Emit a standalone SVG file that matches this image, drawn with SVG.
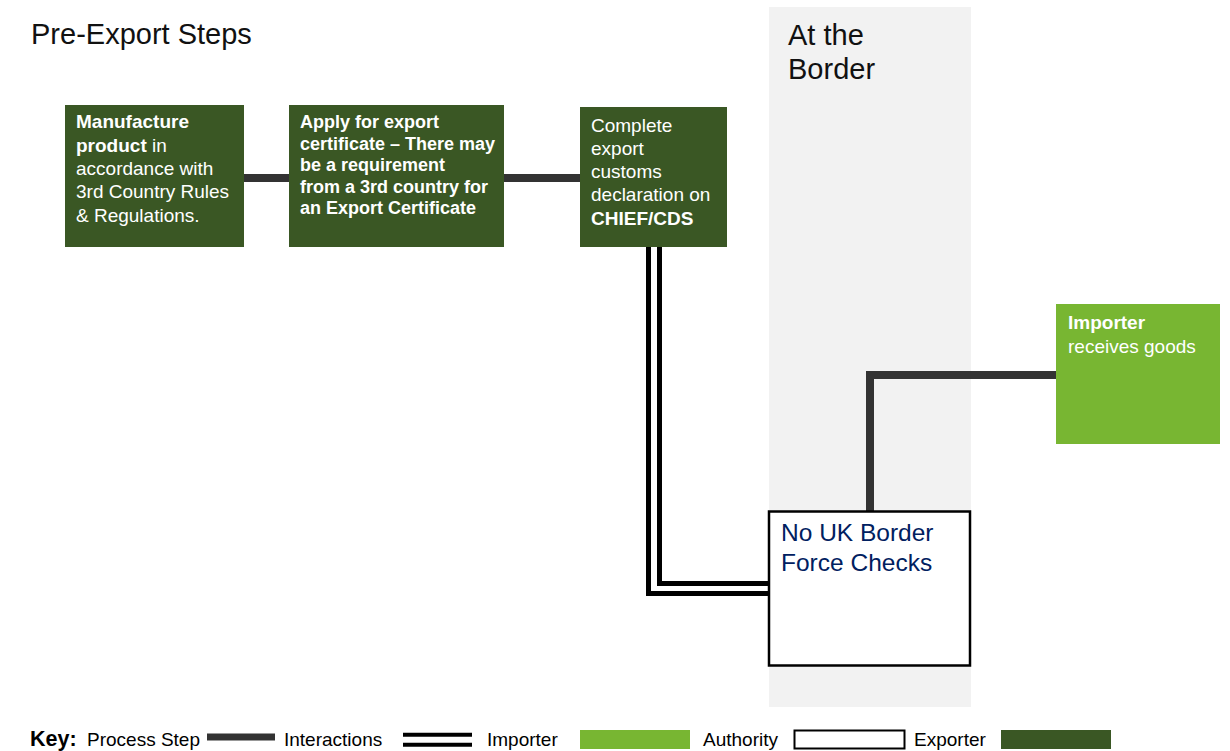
<svg xmlns="http://www.w3.org/2000/svg" width="1230" height="751" viewBox="0 0 1230 751">
<style>
text{font-family:"Liberation Sans",Arial,sans-serif;}
.exp{fill:#3a5724;}
.imp{fill:#78b632;}
.wt{fill:#ffffff;font-size:19px;}
.wb{fill:#ffffff;font-size:18px;font-weight:bold;}
.b{font-weight:bold;}
.proc{fill:none;stroke:#333333;stroke-width:8;}
.inter{fill:none;stroke:#000000;stroke-width:5;}
.auth{fill:#ffffff;stroke:#000000;stroke-width:2.5;}
.hd{font-size:29px;fill:#111111;}
.key{font-size:19px;fill:#000000;}
</style>
<rect width="1230" height="751" fill="#ffffff"/>
<rect id="border-band" x="769" y="7" width="202" height="700" fill="#f2f2f2"/>
<text class="hd" x="31" y="43.5">Pre-Export Steps</text>
<text class="hd" x="788" y="44.5">At the</text>
<text class="hd" x="788" y="79">Border</text>

<g id="connectors">
<line class="proc" x1="244" y1="178" x2="289" y2="178"/>
<line class="proc" x1="504" y1="178" x2="580" y2="178"/>
<polyline class="inter" points="648.5,247 648.5,593.5 769,593.5"/>
<polyline class="inter" points="659.5,247 659.5,583.5 769,583.5"/>
<polyline class="proc" points="870,511 870,375 1056,375"/>
</g>

<g id="manufacture">
<rect class="exp" x="65" y="105" width="179" height="142"/>
<text class="wt" x="76" y="128.3"><tspan class="b">Manufacture</tspan></text>
<text class="wt" x="76" y="151.6"><tspan class="b">product</tspan> in</text>
<text class="wt" x="76" y="174.9">accordance with</text>
<text class="wt" x="76" y="198.2">3rd Country Rules</text>
<text class="wt" x="76" y="221.5">&amp; Regulations.</text>
</g>

<g id="apply-certificate">
<rect class="exp" x="289" y="105" width="215" height="142"/>
<text class="wb" x="300" y="128.3">Apply for export</text>
<text class="wb" x="300" y="149.8">certificate – There may</text>
<text class="wb" x="300" y="171.3">be a requirement</text>
<text class="wb" x="300" y="192.8">from a 3rd country for</text>
<text class="wb" x="300" y="214.3">an Export Certificate</text>
</g>

<g id="customs-declaration">
<rect class="exp" x="580" y="107" width="147" height="140"/>
<text class="wt" x="591" y="131.5">Complete</text>
<text class="wt" x="591" y="154.8">export</text>
<text class="wt" x="591" y="178.1">customs</text>
<text class="wt" x="591" y="201.4">declaration on</text>
<text class="wt b" x="591" y="224.7">CHIEF/CDS</text>
</g>

<g id="border-checks">
<rect class="auth" x="769" y="511.5" width="201" height="154"/>
<text x="781" y="541" style="font-size:24.5px;fill:#002060">No UK Border</text>
<text x="781" y="571" style="font-size:24.5px;fill:#002060">Force Checks</text>
</g>

<g id="importer">
<rect class="imp" x="1056" y="304" width="164" height="140"/>
<text class="wt b" x="1068" y="329">Importer</text>
<text class="wt" x="1068" y="352.5">receives goods</text>
</g>

<g id="key">
<text x="30" y="746" style="font-size:21.5px;font-weight:bold;fill:#000000">Key:</text>
<text class="key" x="87" y="746">Process Step</text>
<line x1="207" y1="737" x2="275" y2="737" stroke="#333333" stroke-width="7"/>
<text class="key" x="284" y="746">Interactions</text>
<line x1="403" y1="734.7" x2="472" y2="734.7" stroke="#000000" stroke-width="4"/>
<line x1="403" y1="744.7" x2="472" y2="744.7" stroke="#000000" stroke-width="4"/>
<text class="key" x="487" y="746">Importer</text>
<rect class="imp" x="580" y="730" width="110" height="19"/>
<text class="key" x="703" y="746">Authority</text>
<rect x="794.5" y="730.5" width="110" height="18" fill="#ffffff" stroke="#000000" stroke-width="2"/>
<text class="key" x="914" y="746">Exporter</text>
<rect class="exp" x="1001" y="730" width="110" height="19"/>
</g>
</svg>
